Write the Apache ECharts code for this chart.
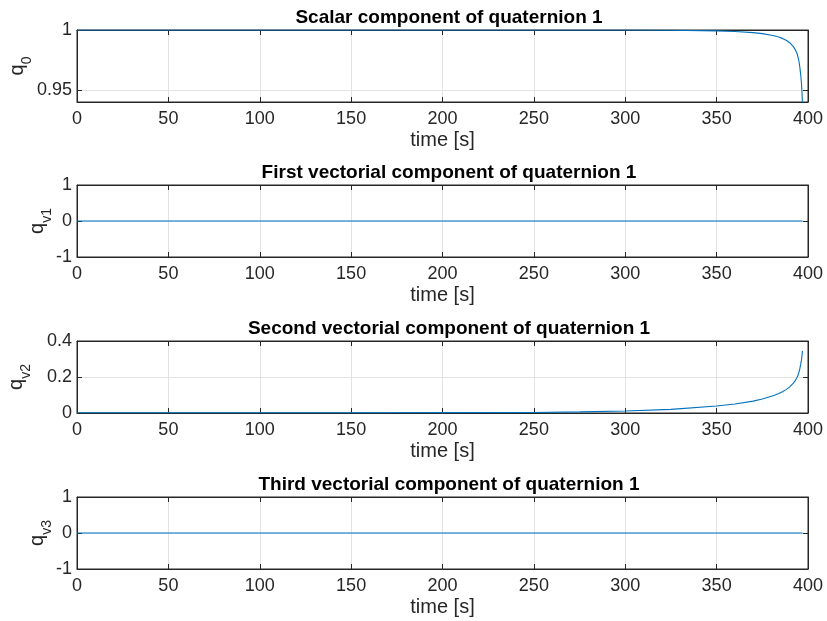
<!DOCTYPE html>
<html>
<head>
<meta charset="utf-8">
<script src="https://cdn.jsdelivr.net/npm/echarts@6/dist/echarts.min.js"></script>
<style>html,body{margin:0;padding:0;background:#fff;}#c{width:827px;height:621px;}</style>
</head>
<body>
<div id="c"></div>
<script>
const time = [0, 50, 100, 150, 200, 250, 275, 300, 325, 350, 360, 370, 375, 380, 382, 384, 386, 388, 389, 390, 391, 392, 393, 394, 394.5, 395, 395.5, 396, 396.5, 397];
const q0   = [1, 1, 1, 1, 1, 0.99999, 0.99998, 0.99994, 0.9998, 0.99925, 0.99875, 0.99782, 0.99695, 0.99567, 0.99499, 0.99415, 0.99301, 0.99151, 0.99057, 0.98943, 0.98791, 0.98612, 0.98367, 0.9804, 0.9777, 0.97436, 0.96952, 0.96286, 0.95394, 0.9386];
const qv1  = [0, 0, 0, 0, 0, 0, 0, 0, 0, 0, 0, 0, 0, 0, 0, 0, 0, 0, 0, 0, 0, 0, 0, 0, 0, 0, 0, 0, 0, 0];
const qv2  = [0.001, 0.001, 0.001, 0.0015, 0.002, 0.003, 0.006, 0.011, 0.02, 0.039, 0.05, 0.066, 0.078, 0.093, 0.1, 0.108, 0.118, 0.13, 0.137, 0.145, 0.155, 0.166, 0.18, 0.197, 0.21, 0.225, 0.245, 0.27, 0.3, 0.345];
const qv3  = [0, 0, 0, 0, 0, 0, 0, 0, 0, 0, 0, 0, 0, 0, 0, 0, 0, 0, 0, 0, 0, 0, 0, 0, 0, 0, 0, 0, 0, 0];

const titles = ['Scalar component of quaternion 1', 'First vectorial component of quaternion 1', 'Second vectorial component of quaternion 1', 'Third vectorial component of quaternion 1'];
const yNames = [['q', '0'], ['q', 'v1'], ['q', 'v2'], ['q', 'v3']];
const yMin = [0.94, -1, 0, -1];
const yMax = [1, 1, 0.4, 1];
const yTicks = [[0.95, 1], [-1, 0, 1], [0, 0.2, 0.4], [-1, 0, 1]];
const yTickText = [['0.95', '1'], ['-1', '0', '1'], ['0', '0.2', '0.4'], ['-1', '0', '1']];
const series = [q0, qv1, qv2, qv3];

const tops = [30, 185, 341, 497];
const H = 72;
const nameGaps = [50, 30, 51, 30];
const txt = '#262626';
const font = '"Liberation Sans", Arial, sans-serif';

const grid = [], xAxis = [], yAxis = [], title = [], ser = [];
for (let i = 0; i < 4; i++) {
  grid.push({left: 77, right: 19, top: tops[i], height: H, show: true, borderColor: txt, borderWidth: 1,
    backgroundColor: '#fff', containLabel: false, outerBoundsMode: 'none'});
  xAxis.push({
    type: 'value', gridIndex: i, min: 0, max: 400, interval: 50, position: 'bottom',
    name: 'time [s]', nameLocation: 'middle', nameGap: 28, nameMoveOverlap: false,
    nameTextStyle: {color: txt, fontSize: 20, fontFamily: font},
    axisLine: {show: true, onZero: false, lineStyle: {color: txt, width: 1}},
    axisTick: {show: true, inside: true, length: 5, lineStyle: {color: txt}},
    axisLabel: {color: txt, fontSize: 18, fontFamily: font, margin: 8},
    splitLine: {show: true, lineStyle: {color: '#e3e3e3', width: 1}}
  }, {
    type: 'value', gridIndex: i, min: 0, max: 400, interval: 50, position: 'top',
    axisLine: {show: true, onZero: false, lineStyle: {color: txt, width: 1}},
    axisTick: {show: true, inside: true, length: 5, lineStyle: {color: txt}},
    axisLabel: {show: false}, splitLine: {show: false}
  });
  yAxis.push({
    type: 'value', gridIndex: i, min: yMin[i], max: yMax[i], position: 'left',
    name: '{q|' + yNames[i][0] + '}{s|' + yNames[i][1] + '}',
    nameLocation: 'middle', nameGap: nameGaps[i], nameRotate: 90, nameMoveOverlap: false,
    nameTextStyle: {rich: {
      q: {color: txt, fontSize: 20, fontFamily: font},
      s: {color: txt, fontSize: 14, fontFamily: font, verticalAlign: 'bottom', padding: [0, 0, -7, 0]}
    }},
    axisLine: {show: true, onZero: false, lineStyle: {color: txt, width: 1}},
    axisTick: {show: true, inside: true, length: 5, customValues: yTicks[i], lineStyle: {color: txt}},
    axisLabel: {color: txt, fontSize: 18, fontFamily: font, margin: 5, customValues: yTicks[i],
      formatter: (v) => { const k = yTicks[i].findIndex(t => Math.abs(t - v) < 1e-9); return k >= 0 ? yTickText[i][k] : ''; }},
    splitLine: {show: true, lineStyle: {color: '#e3e3e3', width: 1}}
  }, {
    type: 'value', gridIndex: i, min: yMin[i], max: yMax[i], position: 'right',
    axisLine: {show: true, onZero: false, lineStyle: {color: txt, width: 1}},
    axisTick: {show: true, inside: true, length: 5, customValues: yTicks[i], lineStyle: {color: txt}},
    axisLabel: {show: false, customValues: yTicks[i]}, splitLine: {show: false}
  });
  title.push({text: titles[i], left: 444, top: tops[i] - 27, textAlign: 'center',
    textStyle: {color: '#000', fontSize: 19, fontWeight: 'bold', fontFamily: font}});
  ser.push({
    type: 'line', xAxisIndex: 2 * i, yAxisIndex: 2 * i, showSymbol: false, clip: true,
    lineStyle: {color: '#0072BD', width: 1.1}, itemStyle: {color: '#0072BD'},
    data: time.map((t, j) => [t, series[i][j]])
  });
}

const chart = echarts.init(document.getElementById('c'), null, {renderer: 'canvas'});
chart.setOption({animation: false, backgroundColor: '#fff', title, grid, xAxis, yAxis, series: ser});
</script>
</body>
</html>
